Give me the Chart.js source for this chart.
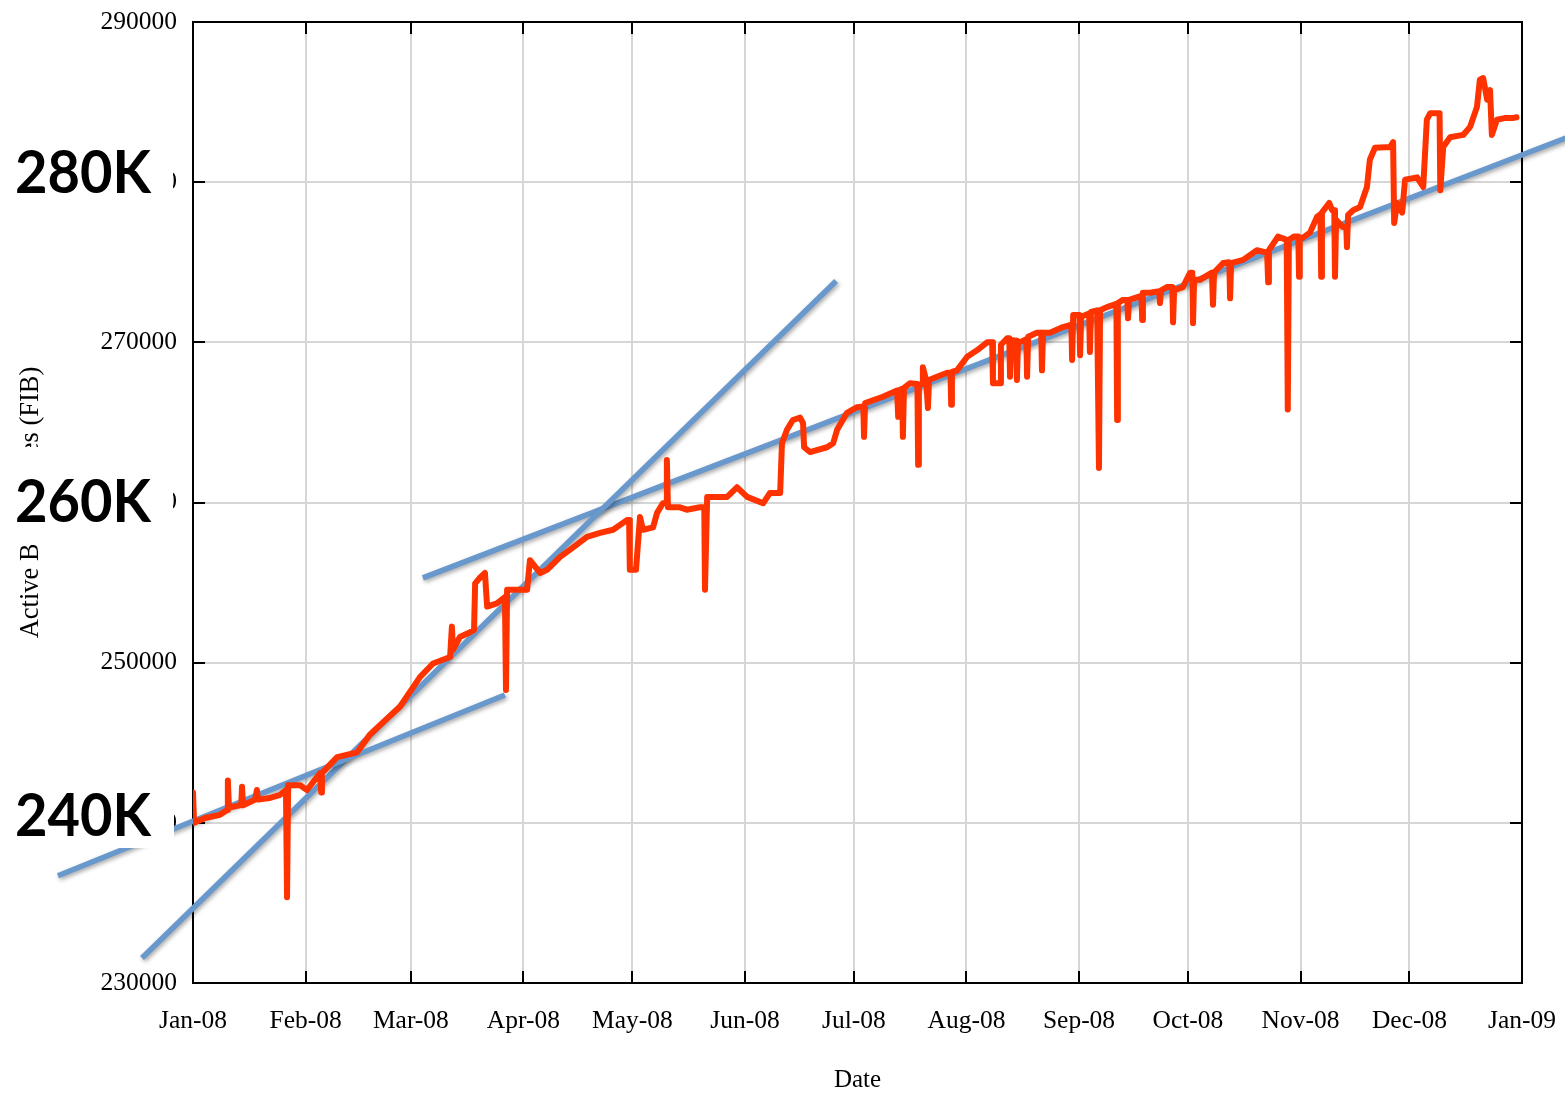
<!DOCTYPE html>
<html>
<head>
<meta charset="utf-8">
<script src="https://cdn.jsdelivr.net/npm/chart.js@4.4.1/dist/chart.umd.min.js"></script>
<style>
html,body{margin:0;padding:0;background:#fff;}
#wrap{position:relative;width:1565px;height:1093px;}
</style>
</head>
<body>
<div id="wrap"><canvas id="c" width="1565" height="1093"></canvas></div>
<script>
// ---- data ----
const monthDays = [0,31,60,91,121,152,182,213,244,274,305,335,366];
const monthLabels = ['Jan-08','Feb-08','Mar-08','Apr-08','May-08','Jun-08','Jul-08','Aug-08','Sep-08','Oct-08','Nov-08','Dec-08','Jan-09'];
const yTicks = [230000,240000,250000,260000,270000,280000,290000];

// days since 1 Jan 2008, active BGP entries
const fibDays = [
0,0.3,3.3,7.4,9.4,9.6,9.9,12.9,13.3,13.5,13.8,17.1,17.6,17.9,21.2,24.0,25.6,25.9,26.2,29.5,31.4,
35.0,35.3,35.5,39.7,45.2,48.7,52.9,57.0,62.5,66.1,70.8,71.3,71.6,73.5,76.3,77.4,77.7,79.0,80.4,81.0,
83.7,85.9,86.2,86.5,92.0,92.8,95.6,97.5,101.1,104.7,108.5,112.1,115.7,119.5,120.1,120.3,122.0,123.1,123.9,126.7,127.8,
129.4,130.3,130.5,130.8,134.1,136.0,139.6,140.8,141.0,141.6,147.1,149.8,152.6,157.0,158.9,161.7,162.2,163.6,165.2,167.2,168.0,168.3,
169.9,174.6,176.3,177.4,180.1,182.9,184.6,184.8,185.1,190.0,193.9,194.2,194.4,195.3,195.5,195.8,197.5,199.5,199.7,199.9,200.8,201.0,201.9,202.4,
202.7,204.9,207.7,208.6,208.8,209.0,210.4,213.2,215.9,218.7,220.1,220.3,222.3,222.5,224.2,224.8,225.0,225.3,226.7,226.9,227.2,229.5,229.7,230.0,232.4,
233.6,233.8,234.1,236.0,239.6,241.9,242.1,242.4,244.1,244.3,244.6,246.8,247.0,247.3,249.0,249.5,249.8,251.7,254.3,254.5,254.7,256.1,257.3,257.5,257.8,261.2,261.4,
261.6,263.6,266.1,266.3,266.6,268.2,269.7,269.9,270.2,272.6,274.6,275.2,275.4,275.7,277.3,280.6,280.9,281.2,283.7,285.4,285.6,285.9,289.2,293.0,
295.8,296.1,296.3,298.8,301.2,301.5,301.8,303.2,304.4,304.6,304.8,307.6,309.6,310.5,310.7,310.9,312.9,313.7,314.3,314.5,314.8,316.7,317.6,317.8,
318.1,319.5,321.4,323.3,324.1,325.5,329.7,330.5,330.8,331.6,333.0,333.8,337.1,338.8,339.8,340.7,342.6,343.3,343.5,344.3,346.2,
349.8,351.7,353.6,354.4,355.3,356.4,357.2,357.7,359.1,361.2,363.4,364.5
];
const fibEntries = [
241900,240000,240300,240500,240800,242650,240950,241100,241150,242250,241100,241450,242050,241450,241550,241750,242050,235350,242350,242350,242050,
243100,241900,243100,244100,244400,245500,246400,247250,249100,249950,250350,252250,250800,251600,251900,252050,254950,255300,255600,253500,
253700,254100,248300,254550,254550,256400,255600,255800,256600,257200,257850,258100,258300,258900,258900,255800,255800,259100,258300,258450,259350,
259950,259950,262650,259700,259700,259550,259700,259700,254550,260350,260350,260950,260350,259950,260600,260600,263700,264550,265150,265300,264950,263450,
263150,263450,263700,264550,265600,265950,266000,264100,266200,266600,267000,265350,267000,267100,264100,267150,267450,267400,262350,267350,267400,268450,267650,265900,
267650,267850,268100,268100,266100,268150,268250,269100,269500,270000,270000,267450,267450,269850,270250,270250,267850,270150,270100,267650,269950,270200,267850,270350,270600,
270600,268250,270600,270600,270950,271100,268900,271700,271700,269200,271600,271800,269400,271900,272000,262150,272000,272200,272400,265150,272450,272650,272650,271500,272650,272900,271400,
273100,273100,273200,272450,273250,273450,273450,271250,273250,273450,274350,274350,271200,273900,273900,274350,272350,274350,274950,275000,272750,274950,275150,275750,
275600,273750,275750,276600,276400,265800,276400,276600,276600,274100,276400,276850,277850,278000,274100,278100,278700,278250,278250,274100,277650,277200,277200,275950,
277950,278250,278450,279700,281400,282150,282200,282500,277450,278700,278100,280150,280300,279700,283900,284300,284300,284300,279500,282200,282800,
282950,283450,284700,286400,286500,285150,285750,282950,283900,284000,284000,284050
];

// hand-drawn trend lines (endpoints, same units)
const trendEarlyDays = [-37.2, 85.9];
const trendEarlyValues = [236700, 247980];
const trendSpringDays = [-14.05, 177.1];
const trendSpringValues = [231560, 273830];
const trendLongDays = [63.3, 382.0];
const trendLongValues = [255290, 283100];

const overlayLabels = ['280K','260K','240K'];

// ---- build ----
const toXY = (xs, ys) => xs.map((d,i) => ({x:d, y:ys[i]}));
const BLUE = '#6898cc';
const trendStyle = {
  borderColor: BLUE, borderWidth: 5.5, pointRadius: 0, tension: 0,
  clip: false, fill: false, borderCapStyle: 'butt'
};

const serif = 'Liberation Serif, Times New Roman, serif';

const framePlugin = {
  id: 'frame',
  beforeDatasetsDraw(chart) {
    const {ctx, chartArea: a, scales} = chart;
    const L = 12;
    ctx.save();
    ctx.strokeStyle = '#000';
    ctx.lineWidth = 2;
    ctx.beginPath();
    scales.x.ticks.forEach(t => {
      const px = Math.round(scales.x.getPixelForValue(t.value));
      ctx.moveTo(px, a.bottom); ctx.lineTo(px, a.bottom - L);
      ctx.moveTo(px, a.top); ctx.lineTo(px, a.top + L);
    });
    scales.y.ticks.forEach(t => {
      const py = Math.round(scales.y.getPixelForValue(t.value));
      ctx.moveTo(a.left, py); ctx.lineTo(a.left + L, py);
      ctx.moveTo(a.right, py); ctx.lineTo(a.right - L, py);
    });
    ctx.stroke();
    ctx.strokeRect(a.left, a.top, a.right - a.left, a.bottom - a.top);
    ctx.restore();
  }
};

const shadowPlugin = {
  id: 'shadow',
  beforeDatasetDraw(chart, args) {
    if (args.index === 0) return;
    const ctx = chart.ctx;
    ctx.save();
    ctx.shadowColor = 'rgba(0,0,0,0.35)';
    ctx.shadowBlur = 4;
    ctx.shadowOffsetX = 1.5;
    ctx.shadowOffsetY = 2;
  },
  afterDatasetDraw(chart, args) {
    if (args.index === 0) return;
    chart.ctx.restore();
  }
};

const overlayPlugin = {
  id: 'bigLabels',
  afterDraw(chart) {
    const ctx = chart.ctx;
    const boxes = [
      {top: 140, bottom: 206, right: 173, base: 193},
      {top: 447, bottom: 545, right: 173, base: 522},
      {top: 778, bottom: 848, right: 174, base: 836}
    ];
    ctx.save();
    overlayLabels.forEach((txt, i) => {
      const b = boxes[i];
      ctx.fillStyle = '#fff';
      ctx.fillRect(0, b.top, b.right, b.bottom - b.top);
      ctx.fillStyle = '#000';
      ctx.font = 'bold 60px Lato, "Liberation Sans", sans-serif';
      ctx.textBaseline = 'alphabetic';
      ctx.textAlign = 'left';
      ctx.fillText(txt, 15, b.base, 136);
    });
    ctx.restore();
  }
};

new Chart(document.getElementById('c'), {
  type: 'line',
  data: {
    datasets: [
      {
        label: 'Active BGP entries',
        data: toXY(fibDays, fibEntries),
        borderColor: '#ff3300', borderWidth: 6, pointRadius: 0, tension: 0,
        borderJoinStyle: 'round', borderCapStyle: 'round', fill: false
      },
      Object.assign({label: 'trend early', data: toXY(trendEarlyDays, trendEarlyValues)}, trendStyle),
      Object.assign({label: 'trend spring', data: toXY(trendSpringDays, trendSpringValues)}, trendStyle),
      Object.assign({label: 'trend long', data: toXY(trendLongDays, trendLongValues)}, trendStyle)
    ]
  },
  options: {
    responsive: false,
    animation: false,
    layout: {padding: {top: 22, right: 43, bottom: 0, left: 0}},
    plugins: {legend: {display: false}, tooltip: {enabled: false}},
    scales: {
      x: {
        type: 'linear', min: 0, max: 366,
        afterBuildTicks: s => { s.ticks = monthDays.map(v => ({value: v})); },
        afterFit: s => { s.height = 110; s.paddingLeft = 0; s.paddingRight = 0; },
        ticks: {
          autoSkip: false, maxRotation: 0, padding: 23, color: '#000',
          font: {family: serif, size: 25.5},
          callback: (v, i) => monthLabels[i]
        },
        grid: {color: '#d6d6d6', lineWidth: 2, drawTicks: false},
        border: {display: false},
        title: {display: true, text: 'Date', color: '#000', padding: 0,
                font: {family: serif, size: 25, lineHeight: 1}}
      },
      y: {
        type: 'linear', min: 230000, max: 290000,
        afterBuildTicks: s => { s.ticks = yTicks.map(v => ({value: v})); },
        afterFit: s => { s.width = 193; s.paddingTop = 0; s.paddingBottom = 0; },
        ticks: {
          padding: 16, color: '#000',
          font: {family: serif, size: 25.5},
          callback: v => String(v)
        },
        grid: {color: '#d6d6d6', lineWidth: 2, drawTicks: false},
        border: {display: false},
        title: {display: true, text: 'Active BGP entries (FIB)', color: '#000',
                padding: {top: 15, bottom: 0},
                font: {family: serif, size: 26.5, lineHeight: 1.2}}
      }
    }
  },
  plugins: [framePlugin, shadowPlugin, overlayPlugin]
});
</script>
</body>
</html>
